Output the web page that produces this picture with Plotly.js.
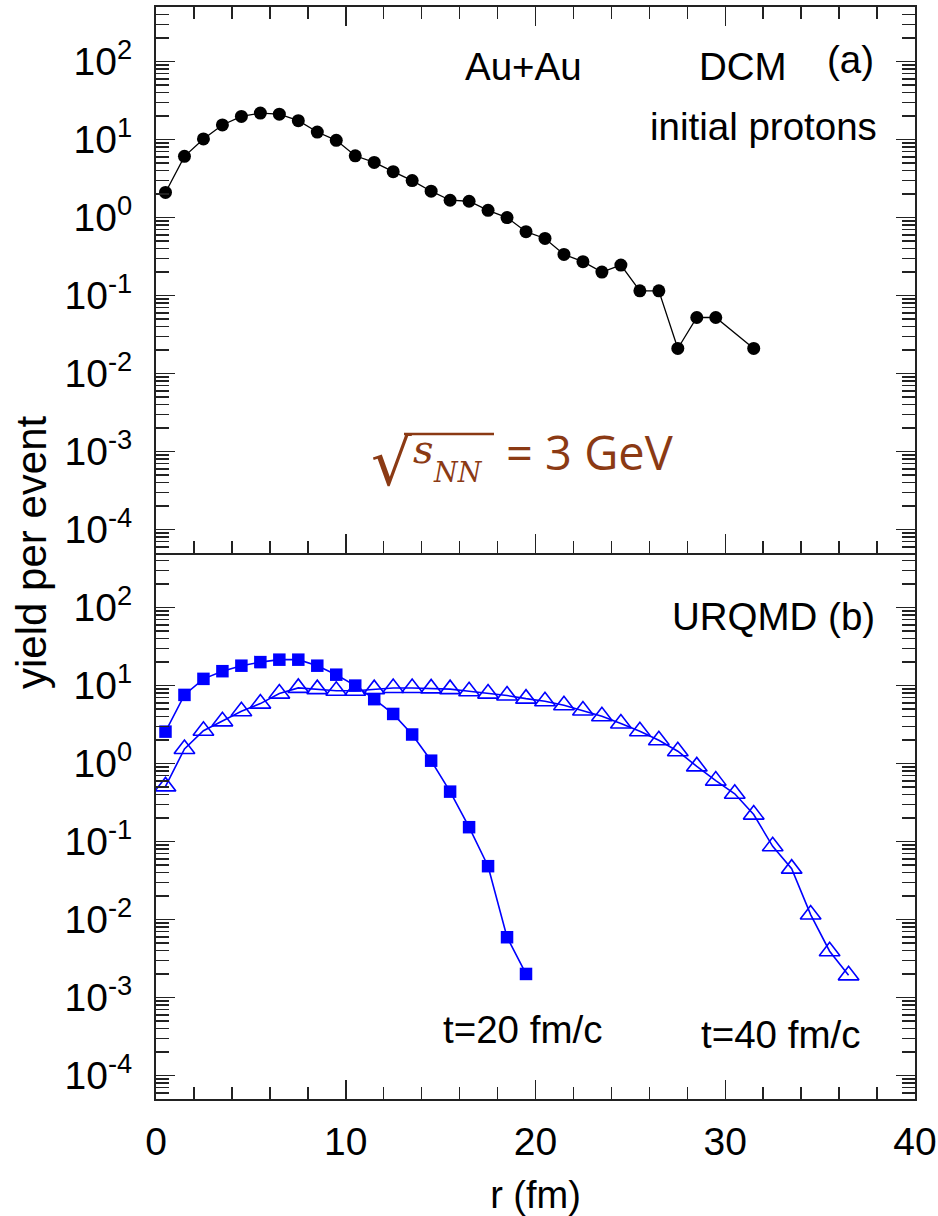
<!DOCTYPE html>
<html><head><meta charset="utf-8">
<script src="https://cdn.plot.ly/plotly-3.0.1.min.js"></script>
<style>html,body{margin:0;padding:0;background:#fff}</style>
</head><body><div id="chart" style="width:938px;height:1216px"></div>
<script>
// ---- data ----
const rDCM = [0.5,1.5,2.5,3.5,4.5,5.5,6.5,7.5,8.5,9.5,10.5,11.5,12.5,13.5,14.5,15.5,16.5,17.5,18.5,19.5,20.5,21.5,22.5,23.5,24.5,25.5,26.5,27.5,28.5,29.5,31.5];
const yDCM = [2.1,6.1,10.2,15.4,19.8,21.9,21.2,17.5,12.5,9.8,6.2,5.1,3.88,2.98,2.18,1.67,1.62,1.24,1.0,0.66,0.54,0.337,0.272,0.2,0.246,0.115,0.115,0.021,0.0524,0.0524,0.021];
const rT20 = [0.5,1.5,2.5,3.5,4.5,5.5,6.5,7.5,8.5,9.5,10.5,11.5,12.5,13.5,14.5,15.5,16.5,17.5,18.5,19.5];
const yT20 = [2.57,7.6,12.2,15.3,18.0,20.0,21.5,21.5,18.0,13.8,10.0,6.7,4.33,2.36,1.09,0.437,0.153,0.0484,0.00594,0.00201];
const rT40 = [0.5,1.5,2.5,3.5,4.5,5.5,6.5,7.5,8.5,9.5,10.5,11.5,12.5,13.5,14.5,15.5,16.5,17.5,18.5,19.5,20.5,21.5,22.5,23.5,24.5,25.5,26.5,27.5,28.5,29.5,30.5,31.5,32.5,33.5,34.5,35.5,36.5];
const yT40 = [0.51,1.54,2.64,3.48,4.68,5.88,7.9,9.34,9.0,8.6,8.6,9.0,9.3,9.3,9.2,9.0,8.45,7.9,7.45,6.8,6.3,5.6,4.8,4.04,3.26,2.6,1.99,1.44,0.92,0.605,0.41,0.222,0.087,0.045,0.0116,0.00393,0.00193];
const yTickVals = [1e-4,1e-3,1e-2,1e-1,1,10,100];
const yTickText = ['10<sup>-4</sup>','10<sup>-3</sup>','10<sup>-2</sup>','10<sup>-1</sup>','10<sup>0</sup>','10<sup>1</sup>','10<sup>2</sup>'];
const xTickVals = [0,10,20,30,40];
const xTickText = ['0','10','20','30','40'];

// ---- layout helpers ----
const W = 938, H = 1216, L = 156, R = 23, T = 7, B = 117;
const pw = W - L - R, ph = H - T - B;
const X = px => (px - L) / pw;
const Y = py => (H - B - py) / ph;
const INK = '#222';
const BLUE = '#0000ff';
const BROWN = '#8b3a14';
const SANS = 'Liberation Sans, Arial, sans-serif';

const minorY = [];
for (let e = -5; e <= 2; e++) for (let d = 2; d <= 9; d++) minorY.push(d * Math.pow(10, e));

function xAxis(anchor, labels, mirror, showline) {
  return {
    anchor: anchor, range: [0, 40], tickmode: 'array', tickvals: xTickVals, ticktext: xTickText,
    showticklabels: labels, tickfont: {size: 39, color: '#000', family: SANS},
    ticks: 'inside', ticklen: 19, tickwidth: 1.5, tickcolor: INK,
    showline: showline, linewidth: 2, linecolor: INK, mirror: mirror,
    showgrid: false, zeroline: false, ticklabelstandoff: 7,
    minor: {tickmode: 'linear', tick0: 0, dtick: 2, ticks: 'inside', ticklen: 12, tickwidth: 1.5, tickcolor: INK, showgrid: false}
  };
}
function yAxis(anchor, domain) {
  return {
    anchor: anchor, domain: domain, type: 'log', range: [-4.3, 2.7],
    tickmode: 'array', tickvals: yTickVals, ticktext: yTickText,
    tickfont: {size: 39, color: '#000', family: SANS},
    ticks: 'inside', ticklen: 19, tickwidth: 1.5, tickcolor: INK,
    showline: true, linewidth: 2, linecolor: INK, mirror: 'ticks',
    showgrid: false, zeroline: false, ticklabelstandoff: 14,
    minor: {tickmode: 'array', tickvals: minorY, ticks: 'inside', ticklen: 13, tickwidth: 1.5, tickcolor: INK, showgrid: false}
  };
}

const traces = [
  {x: rDCM, y: yDCM, xaxis: 'x', yaxis: 'y', mode: 'lines+markers', name: 'DCM initial protons',
   line: {color: '#000', width: 1.3}, marker: {symbol: 'circle', size: 13, color: '#000'}},
  {x: rT20, y: yT20, xaxis: 'x2', yaxis: 'y2', mode: 'lines+markers', name: 't=20 fm/c',
   line: {color: BLUE, width: 1.6}, marker: {symbol: 'square', size: 12.5, color: BLUE}},
  {x: rT40, y: yT40, xaxis: 'x2', yaxis: 'y2', mode: 'lines+markers', name: 't=40 fm/c',
   line: {color: BLUE, width: 1.6}, marker: {symbol: 'triangle-up-open', size: 18, color: BLUE, line: {color: BLUE, width: 1.6}}}
];

function ann(text, px, py, anchor, size, extra) {
  return Object.assign({text: text, xref: 'paper', yref: 'paper', x: X(px), y: Y(py),
    xanchor: anchor, yanchor: 'middle', showarrow: false,
    font: {family: SANS, size: size || 38.5, color: '#000'}}, extra || {});
}

const annotations = [
  ann('Au+Au', 463, 66.7, 'left'),
  ann('DCM', 697, 66.7, 'left'),
  ann('(a)', 825, 59.7, 'left'),
  ann('initial protons', 879, 126.7, 'right'),
  ann('URQMD (b)', 670, 616.7, 'left'),
  ann('t=20 fm/c', 441, 1029.4, 'left'),
  ann('t=40 fm/c', 699, 1034, 'left'),
  ann('yield per event', 31, 553, 'center', 42, {textangle: -90}),
  ann('√', 391, 463, 'center', 64, {font: {family: 'DejaVu Sans', size: 64, color: BROWN}}),
  ann('<i>s</i>', 411, 449, 'left', 40, {font: {family: 'DejaVu Serif', size: 40, color: BROWN}}),
  ann('<i>NN</i>', 431, 472, 'left', 27, {font: {family: 'DejaVu Serif', size: 27, color: BROWN}}),
  ann('= 3 GeV', 504, 452, 'left', 47, {font: {family: 'Open Sans', size: 47, color: BROWN}})
];

const shapes = [
  {type: 'line', xref: 'paper', yref: 'paper', x0: X(404), x1: X(494), y0: Y(434), y1: Y(434),
   line: {color: BROWN, width: 2.3}}
];

const xa2 = xAxis('y2', true, false, true);
xa2.title = {text: 'r (fm)', font: {size: 38, family: SANS, color: '#000'}, standoff: 24};
const xa3 = xAxis('y2', false, false, false);
xa3.overlaying = 'x2';
xa3.side = 'top';

const layout = {
  width: W, height: H, margin: {l: L, r: R, t: T, b: B},
  paper_bgcolor: '#fff', plot_bgcolor: '#fff', showlegend: false,
  font: {family: SANS, color: '#000'},
  xaxis: xAxis('y', false, 'ticks', true),
  xaxis2: xa2,
  xaxis3: xa3,
  yaxis: yAxis('x', [0.5, 1]),
  yaxis2: yAxis('x2', [0, 0.5]),
  annotations: annotations, shapes: shapes
};

Plotly.newPlot('chart', traces, layout, {displayModeBar: false, staticPlot: true});
</script></body></html>
